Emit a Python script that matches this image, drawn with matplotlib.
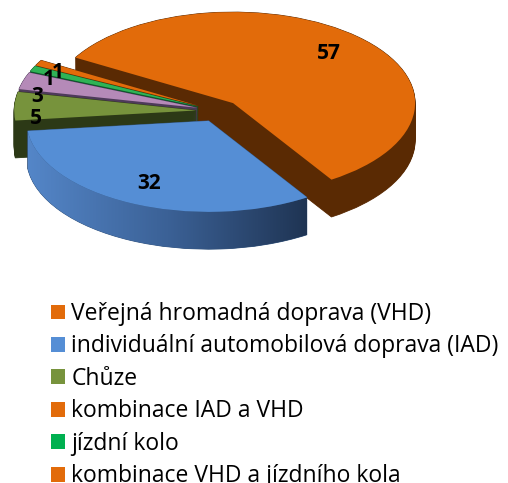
import numpy as np
import matplotlib.pyplot as plt
from matplotlib.patches import Patch, Polygon
from matplotlib.colors import LinearSegmentedColormap

plt.rcParams['font.family'] = ['Open Sans', 'DejaVu Sans']

# Data
labels = ['Veřejná hromadná doprava (VHD)',
          'individuální automobilová doprava (IAD)',
          'Chůze',
          'kombinace IAD a VHD',
          'jízdní kolo',
          'kombinace VHD a jízdního kola']
values = [57, 32, 5, 3, 1, 1]

# Colours: top face, side wall, legend square
top_colors = ['#E26B0A', '#558ED5', '#77933C', '#B58AB8', '#2FB356', '#E26B0A']
side_colors = ['#5A2A03', '#34557F', '#2C3916', '#4E3A5A', '#0B5A2A', '#5A2A03']
legend_colors = ['#E26B0A', '#558ED5', '#77933C', '#E26B0A', '#00B050', '#E26B0A']

start = 150
explode = [0.12] * len(values)
depth = 0.41
n_layers = 40
label_r = [0.76, 0.76, 0.88, 0.92, 0.90, 0.88]
label_dy = [0, 0, -0.13, -0.15, -0.08, -0.05]

W, H = 508, 483
fig = plt.figure(figsize=(W / 100, H / 100), dpi=100)

# axes in pixels: centre of the pie at (218, 111) from top-left,
# x-radius 182 px, y-radius 91 px
cx, cy, rx, ry = 218, 111, 182, 91
ax_bottom_px = 200
ax = fig.add_axes([0, ax_bottom_px / H, 1, (H - ax_bottom_px) / H])

# side walls: stack of darker pies shifted down
for k in range(n_layers):
    off = -depth * (1 - k / (n_layers - 1))
    ax.pie(values, colors=side_colors, startangle=start, counterclock=False,
           explode=explode, center=(0, off), wedgeprops=dict(linewidth=0.6))
    for w, c in zip(ax.patches[-len(values):], side_colors):
        w.set_edgecolor(c)

# top face
wedges, _ = ax.pie(values, colors=top_colors, startangle=start,
                   counterclock=False, explode=explode,
                   wedgeprops=dict(linewidth=0))
for w in wedges:
    w.set_zorder(1.2)

# shaded front wall of the blue slice
bw = wedges[1]
t = np.deg2rad(np.linspace(bw.theta1, bw.theta2, 200))
x0, y0 = bw.center
arc_x = x0 + np.cos(t)
arc_y = y0 + np.sin(t)
pts = np.vstack([np.column_stack([arc_x, arc_y]),
                 np.column_stack([arc_x[::-1], arc_y[::-1] - depth])])
clip = Polygon(pts, closed=True, transform=ax.transData, facecolor='none',
               edgecolor='none')
ax.add_patch(clip)
grad = np.linspace(0, 1, 256).reshape(1, -1)
cmap = LinearSegmentedColormap.from_list('side', ['#5486C8', '#3B6196', '#1F3453'])
im = ax.imshow(grad, cmap=cmap, aspect='auto',
               extent=(arc_x.min(), arc_x.max(), arc_y.min() - depth, arc_y.max()),
               zorder=1.1)
im.set_clip_path(clip)

for w, v, r, dy in zip(wedges, values, label_r, label_dy):
    mid = np.deg2rad((w.theta1 + w.theta2) / 2)
    x0, y0 = w.center
    ax.text(x0 + r * np.cos(mid), y0 + r * np.sin(mid) + dy, str(v),
            ha='center', va='center', fontsize=15, fontweight='bold',
            color='black', zorder=5)

ax.set_aspect('auto')
ax.set_xlim(-cx / rx, (W - cx) / rx)
ax.set_ylim(-(H - ax_bottom_px - cy) / ry, cy / ry)
ax.axis('off')

handles = [Patch(facecolor=c, edgecolor='none') for c in legend_colors]
fig.legend(handles, labels, loc='upper left', bbox_to_anchor=(51 / W, 1 - 302 / H),
           frameon=False, fontsize=16.5, handlelength=0.62, handleheight=0.62,
           handletextpad=0.26, labelspacing=0.37, borderaxespad=0,
           borderpad=0)

fig.savefig('out.png', dpi=100)
